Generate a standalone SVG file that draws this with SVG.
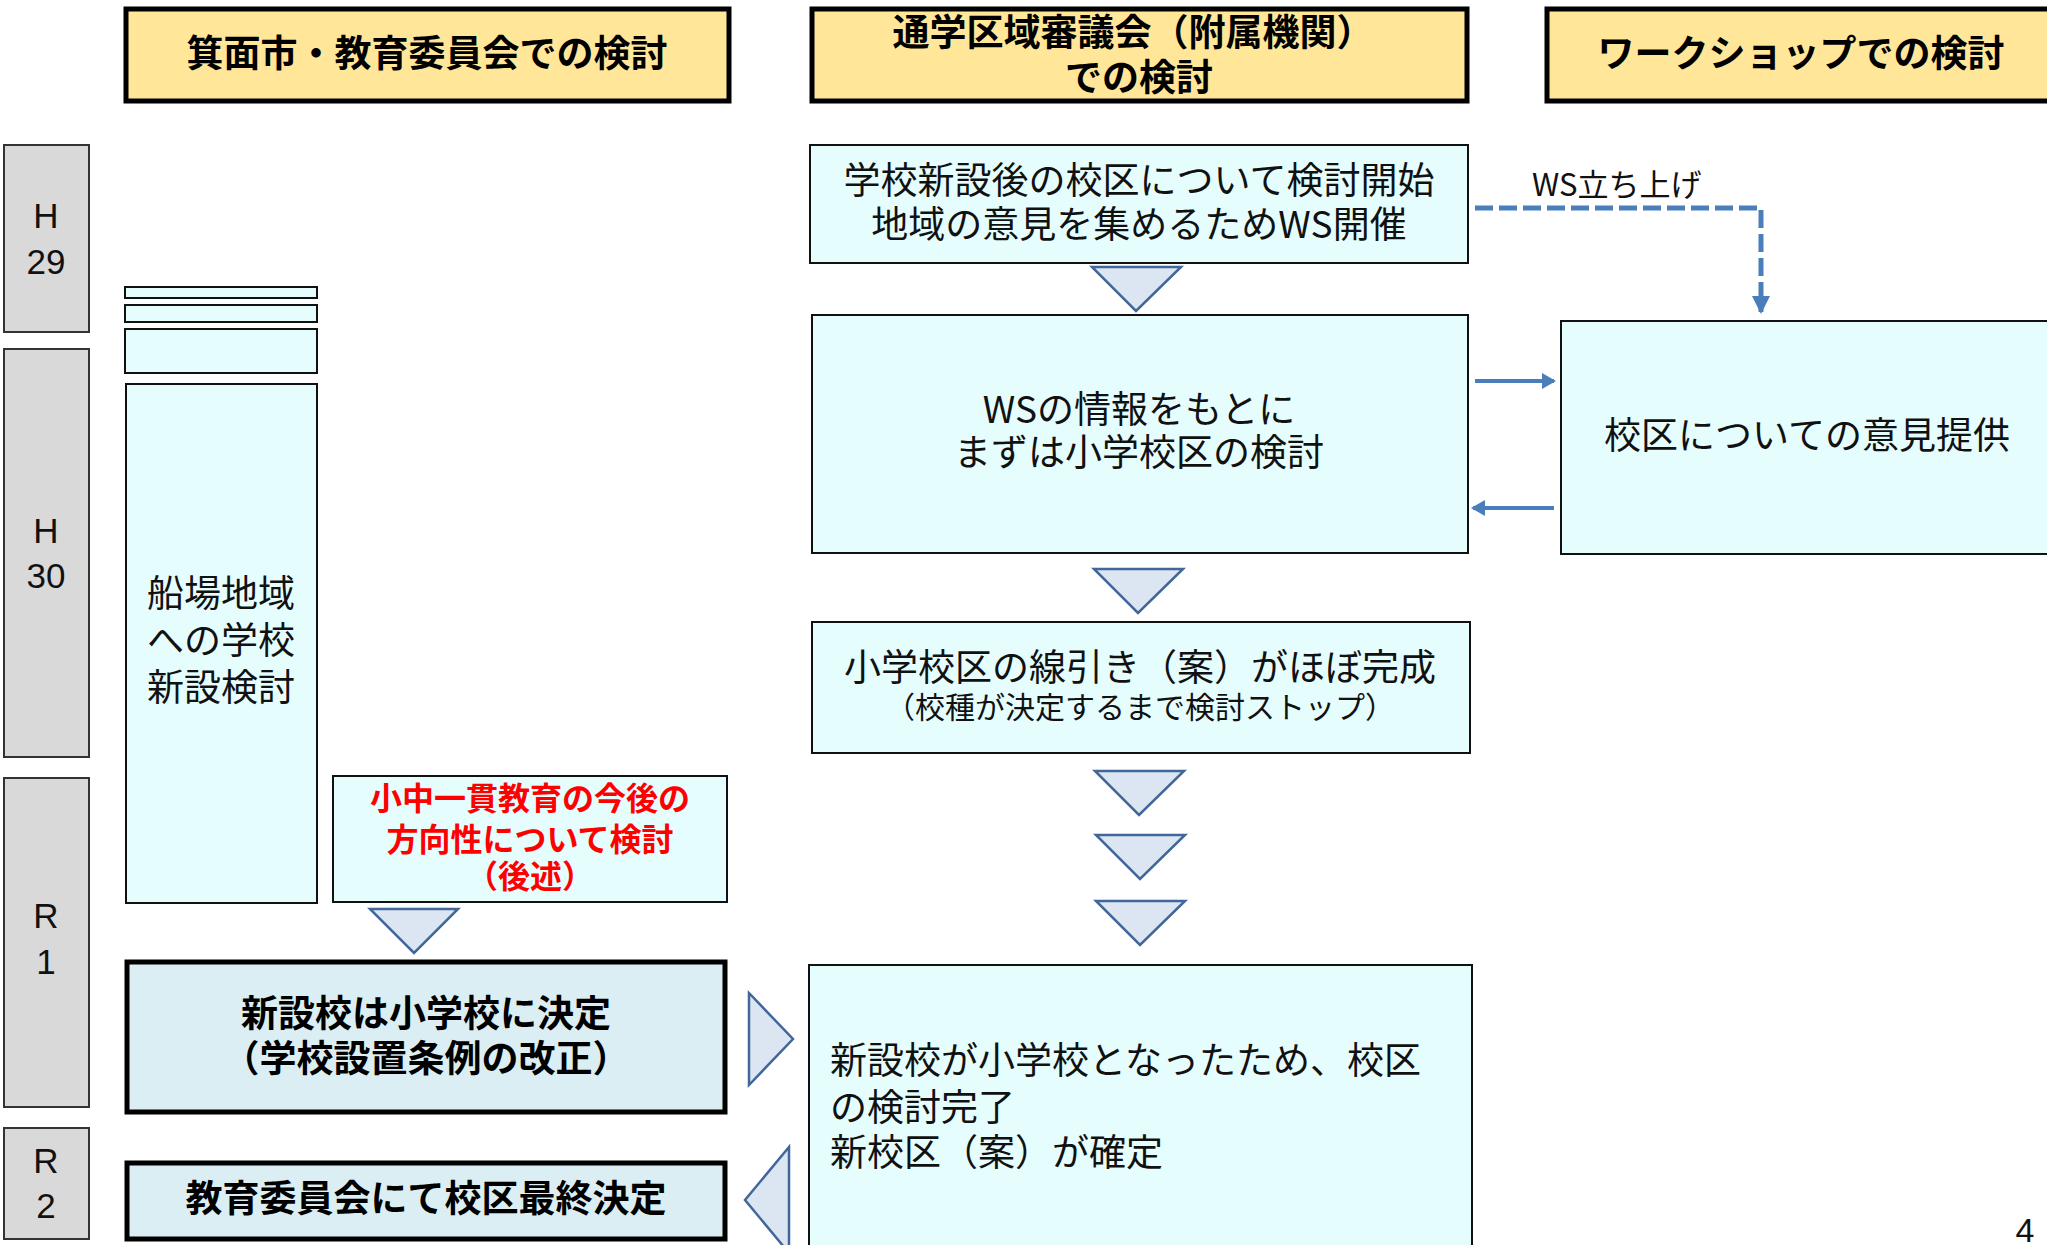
<svg xmlns="http://www.w3.org/2000/svg" width="2047" height="1245" viewBox="0 0 2047 1245">
<defs>
<style>
.hdr{fill:#FFE699;stroke:#000;stroke-width:5}
.yr{fill:#D9D9D9;stroke:#333;stroke-width:2}
.bx{fill:#E6FDFE;stroke:#111;stroke-width:2}
.dec{fill:#DAEEF3;stroke:#000;stroke-width:5}
.tri{fill:#DCE6F2;stroke:#41679A;stroke-width:2.5;stroke-linejoin:miter}
.t{font-family:"Noto Sans CJK JP","Noto Sans",sans-serif;fill:#111;font-size:37px}
.tb{font-family:"Noto Sans CJK JP","Noto Sans",sans-serif;fill:#000;font-size:37px;font-weight:bold}
.red{font-family:"Noto Sans CJK JP","Noto Sans",sans-serif;fill:#FF0000;font-size:32px;font-weight:bold}
.yt{font-family:"Liberation Sans",Arial,sans-serif;fill:#111;font-size:35px}
.c{text-anchor:middle}
.arr{stroke:#4A7EBB;stroke-width:4;fill:none}
.dash{stroke:#4A7EBB;stroke-width:5;fill:none;stroke-dasharray:18 6}
</style>
<marker id="ah" markerUnits="userSpaceOnUse" markerWidth="14" markerHeight="16" refX="12" refY="8" orient="auto">
<path d="M0,0 L14,8 L0,16 Z" fill="#4A7EBB"/>
</marker>
<marker id="ahd" markerUnits="userSpaceOnUse" markerWidth="18" markerHeight="18" refX="16" refY="9" orient="auto">
<path d="M0,0 L18,9 L0,18 Z" fill="#4A7EBB"/>
</marker>
</defs>
<rect width="2047" height="1245" fill="#fff"/>

<g id="header-city">
<rect class="hdr" x="126" y="9" width="603" height="92"/>
<text class="tb c" x="427" y="67">箕面市・教育委員会での検討</text>
</g>
<g id="header-council">
<rect class="hdr" x="812" y="9" width="655" height="92"/>
<text class="tb c" x="1133" y="46">通学区域審議会（附属機関）</text>
<text class="tb c" x="1139" y="91">での検討</text>
</g>
<g id="header-ws">
<rect class="hdr" x="1547" y="9" width="520" height="92"/>
<text class="tb c" x="1801" y="67">ワークショップでの検討</text>
</g>

<g id="year-h29">
<rect class="yr" x="4" y="145" width="85" height="187"/>
<text class="yt c" x="46" y="228">H</text>
<text class="yt c" x="46" y="274">29</text>
</g>
<g id="year-h30">
<rect class="yr" x="4" y="349" width="85" height="408"/>
<text class="yt c" x="46" y="543">H</text>
<text class="yt c" x="46" y="588">30</text>
</g>
<g id="year-r1">
<rect class="yr" x="4" y="778" width="85" height="329"/>
<text class="yt c" x="46" y="928">R</text>
<text class="yt c" x="46" y="974">1</text>
</g>
<g id="year-r2">
<rect class="yr" x="4" y="1128" width="85" height="111"/>
<text class="yt c" x="46" y="1173">R</text>
<text class="yt c" x="46" y="1218">2</text>
</g>

<g id="bars-small">
<rect class="bx" x="125" y="287" width="192" height="11"/>
<rect class="bx" x="125" y="305" width="192" height="17"/>
<rect class="bx" x="125" y="329" width="192" height="44"/>
</g>
<g id="node-funaba">
<rect class="bx" x="126" y="384" width="191" height="519"/>
<text class="t c" x="221" y="607">船場地域</text>
<text class="t c" x="221" y="654">への学校</text>
<text class="t c" x="221" y="701">新設検討</text>
</g>
<g id="node-ikkan">
<rect class="bx" x="333" y="776" width="394" height="126"/>
<text class="red c" x="530" y="810">小中一貫教育の今後の</text>
<text class="red c" x="530" y="851">方向性について検討</text>
<text class="red c" x="530" y="888">（後述）</text>
</g>
<g id="node-decide">
<rect class="dec" x="127" y="962" width="598" height="150"/>
<text class="tb c" x="426" y="1027">新設校は小学校に決定</text>
<text class="tb c" x="426" y="1072">（学校設置条例の改正）</text>
</g>
<g id="node-final">
<rect class="dec" x="127" y="1163" width="598" height="76"/>
<text class="tb c" x="426" y="1212">教育委員会にて校区最終決定</text>
</g>

<g id="node-start">
<rect class="bx" x="810" y="145" width="658" height="118"/>
<text class="t c" x="1139" y="194">学校新設後の校区について検討開始</text>
<text class="t c" x="1139" y="238">地域の意見を集めるためWS開催</text>
</g>
<g id="node-wsinfo">
<rect class="bx" x="812" y="315" width="656" height="238"/>
<text class="t c" x="1139" y="423">WSの情報をもとに</text>
<text class="t c" x="1139" y="466">まずは小学校区の検討</text>
</g>
<g id="node-opinion">
<rect class="bx" x="1561" y="321" width="510" height="233"/>
<text class="t c" x="1807" y="449">校区についての意見提供</text>
</g>
<g id="node-draft">
<rect class="bx" x="812" y="622" width="658" height="131"/>
<text class="t c" x="1140" y="681">小学校区の線引き（案）がほぼ完成</text>
<text class="t c" x="1140" y="718" style="font-size:30px">（校種が決定するまで検討ストップ）</text>
</g>
<g id="node-done">
<rect class="bx" x="809" y="965" width="663" height="300"/>
<text class="t" x="830" y="1074">新設校が小学校となったため、校区</text>
<text class="t" x="830" y="1121">の検討完了</text>
<text class="t" x="830" y="1166">新校区（案）が確定</text>
</g>

<g id="connectors">
<polygon class="tri" points="1092,267 1181,267 1136,311"/>
<polygon class="tri" points="1094,569 1183,569 1138,613"/>
<polygon class="tri" points="1095,771 1184,771 1139,815"/>
<polygon class="tri" points="1096,835 1185,835 1140,879"/>
<polygon class="tri" points="1096,901 1185,901 1140,945"/>
<polygon class="tri" points="370,909 458,909 414,953"/>
<polygon class="tri" points="749,993 793,1039 749,1085"/>
<polygon class="tri" points="789,1147 745,1200 789,1253"/>
<line class="arr" x1="1475" y1="381" x2="1554" y2="381" marker-end="url(#ah)"/>
<line class="arr" x1="1554" y1="508" x2="1473" y2="508" marker-end="url(#ah)"/>
<path class="dash" d="M1475,208 H1761 V312" marker-end="url(#ahd)"/>
<text x="1532" y="196" style="font-family:'Noto Sans CJK JP','Noto Sans',sans-serif;font-size:31px;fill:#111">WS立ち上げ</text>
</g>

<text x="2025" y="1242" class="c" style="font-family:'Liberation Sans',Arial,sans-serif;font-size:34px;fill:#111">4</text>
</svg>
